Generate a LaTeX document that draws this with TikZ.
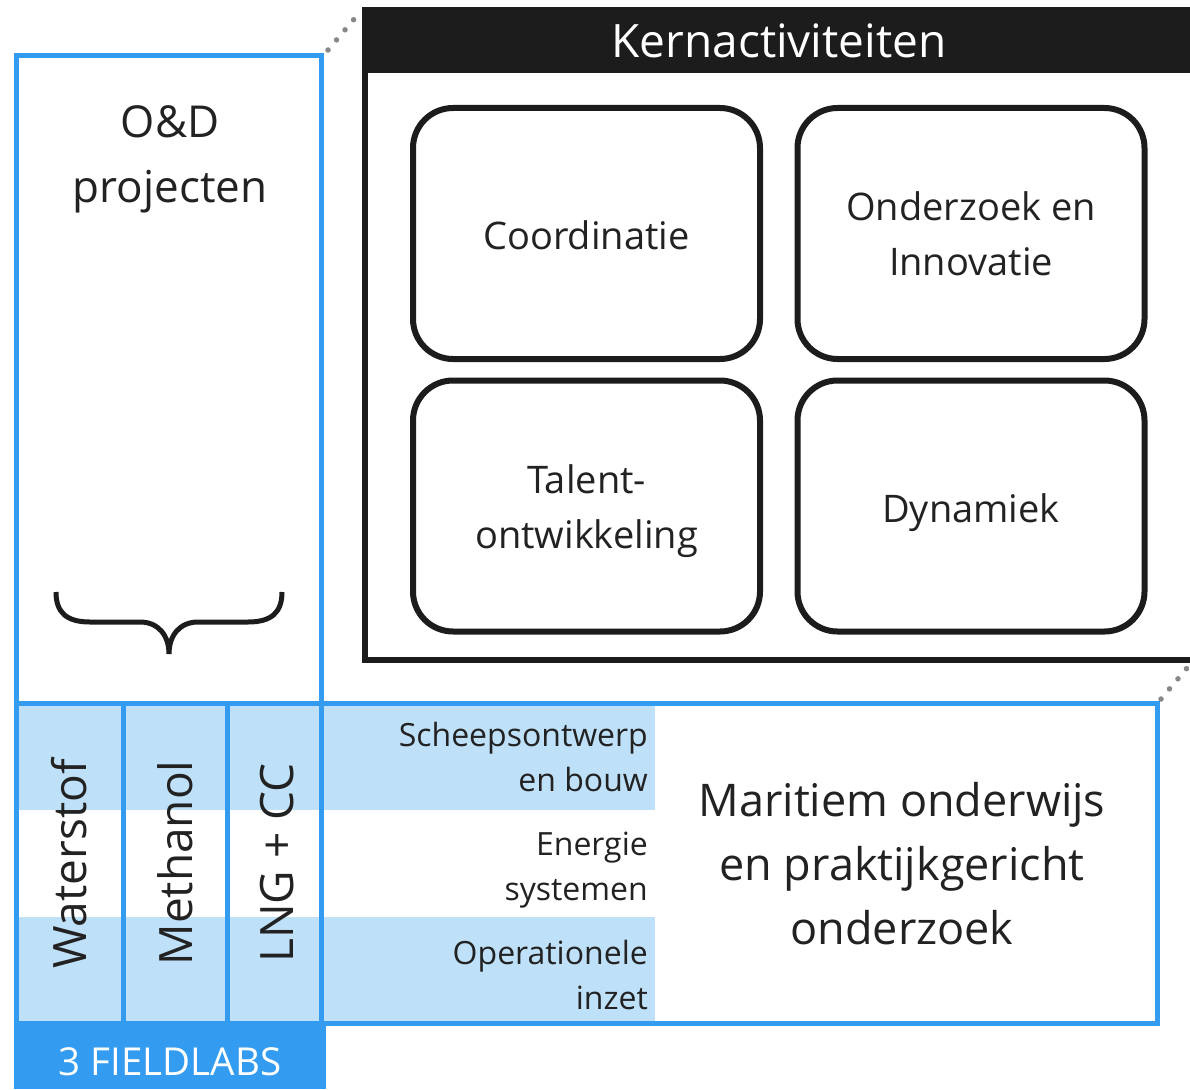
\documentclass[tikz,border=0pt]{standalone}
\usepackage{fontspec}
\setmainfont{Open Sans}
\definecolor{fblue}{RGB}{51,156,240}
\definecolor{lblue}{RGB}{190,224,248}
\definecolor{kblack}{RGB}{28,28,28}
\definecolor{txt}{RGB}{34,34,34}
\definecolor{dotgray}{RGB}{136,136,136}
\tikzset{
  kbox/.style={draw=kblack, line width=6pt, rounded corners=40pt, minimum width=347pt, minimum height=251pt, align=center, text=txt, font=\fontsize{38}{55}\selectfont, inner sep=0pt},
  lbl/.style={anchor=east, align=right, text=txt, font=\fontsize{32}{45}\selectfont, inner sep=0pt},
  vlbl/.style={rotate=90, text=txt, font=\fontsize{46}{46}\selectfont, inner sep=0pt},
  blueline/.style={draw=fblue, line width=5pt},
  dotline/.style={draw=dotgray, line width=5.5pt, line cap=round, dash pattern=on 0pt off 13.2pt},
}
\begin{document}
\begin{tikzpicture}[x=1pt,y=-1pt]
\useasboundingbox (0,0) rectangle (1190,1089);
\fill[white] (0,0) rectangle (1190,1089);

% light blue bands
\fill[lblue] (14,703) rectangle (655,810);
\fill[lblue] (14,917) rectangle (655,1023);

% black "Kernactiviteiten" frame
\draw[kblack, line width=6pt, fill=white] (365,10) rectangle (1196,660);
\fill[kblack] (362,7) rectangle (1196,73);
\node[text=white, font=\fontsize{46}{46}\selectfont, inner sep=0pt] (kern) at (779,41) {Kernactiviteiten};

% four core activity boxes
\node[kbox] (coord) at (586.5,233.5) {\rule{0pt}{32pt}Coordinatie};
\node[kbox] (onder) at (971,233.5) {\rule{0pt}{30pt}Onderzoek en\\Innovatie};
\node[kbox] (talent) at (586.5,506) {\rule{0pt}{40pt}Talent-\\ontwikkeling};
\node[kbox] (dyn) at (971,506) {\rule{0pt}{42pt}Dynamiek};

% blue frames
\draw[blueline] (16.5,56) rectangle (321.5,1023);
\draw[blueline] (16.5,703) rectangle (1157.5,1023);
\draw[blueline] (123,703) -- (123,1023);
\draw[blueline] (227,703) -- (227,1023);
\fill[fblue] (14,1021) rectangle (326,1089);

% O&D projecten
\node[text=txt, align=center, font=\fontsize{44}{65}\selectfont, inner sep=0pt] (od) at (170,159) {O\&D\\projecten};

% brace
\draw[kblack, line width=5pt] (56,592) .. controls (56,612) and (66,622) .. (90,622) -- (140,622) .. controls (158,622) and (169,635) .. (169,654) .. controls (169,635) and (180,622) .. (198,622) -- (248,622) .. controls (272,622) and (282,612) .. (282,592);

% fieldlab columns
\node[vlbl] (water) at (69,864) {Waterstof};
\node[vlbl] (meth) at (175,863) {Methanol};
\node[vlbl] (lng) at (277,863) {LNG + CC};
\node[text=white, font=\fontsize{38.5}{38.5}\selectfont, inner sep=0pt] (field) at (170,1062) {3 FIELDLABS};

% themes
\node[lbl] (schip) at (648,757) {Scheepsontwerp\\en bouw};
\node[lbl] (energie) at (648,870) {Energie\\systemen};
\node[lbl] (oper) at (648,975) {Operationele\\inzet};

\node[text=txt, align=center, font=\fontsize{45}{64}\selectfont, inner sep=0pt] (mar) at (902,864) {Maritiem onderwijs\\en praktijkgericht\\onderzoek};

% callout dotted lines
\coordinate (a1) at (328,50);
\coordinate (a2) at (355,18);
\coordinate (b1) at (1161,699);
\coordinate (b2) at (1187,668);
\draw[dotline] (a1) -- (a2);
\draw[dotline] (b1) -- (b2);
\end{tikzpicture}
\end{document}
